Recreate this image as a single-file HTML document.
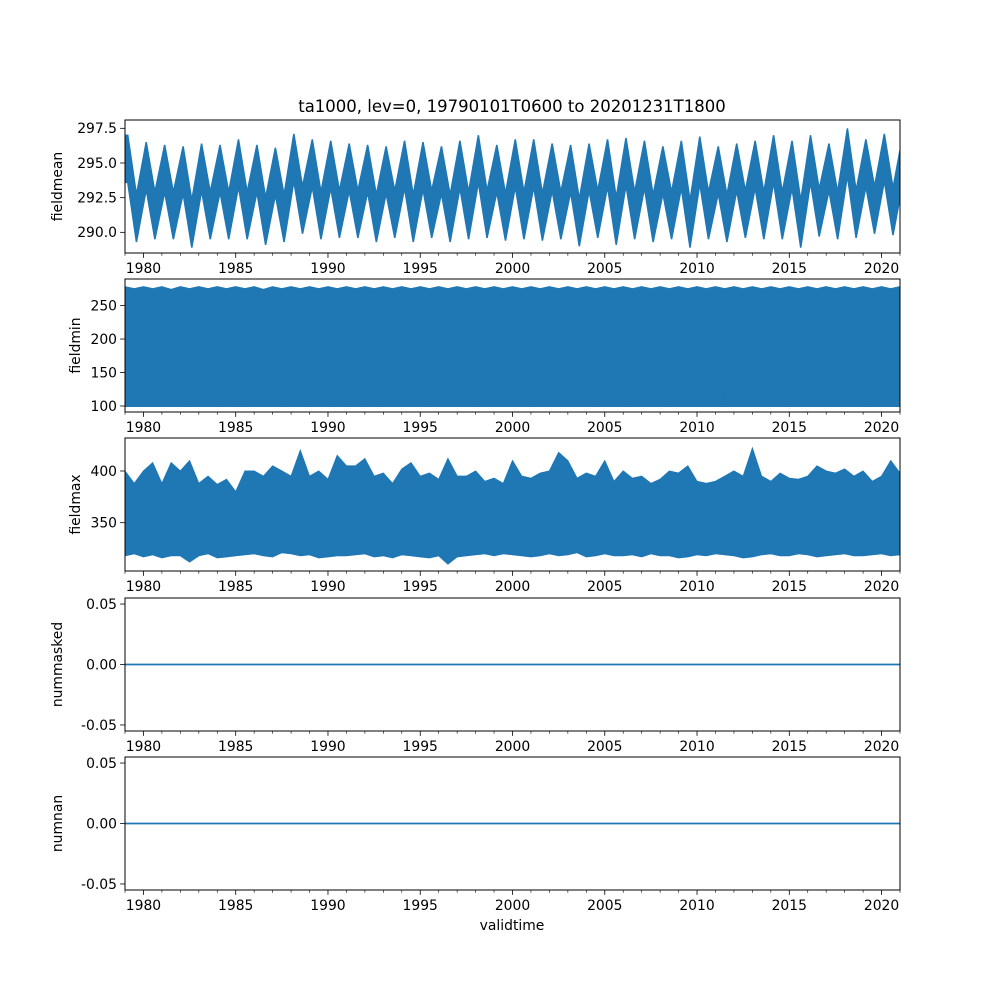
<!DOCTYPE html>
<html><head><meta charset="utf-8"><style>
body{margin:0;background:#fff}
svg text{font-family:"DejaVu Sans","Liberation Sans",sans-serif;fill:#000}
</style></head><body>
<svg id="fig" width="1000" height="1000" viewBox="0 0 1000 1000">
<rect width="1000" height="1000" fill="#fff"/>
<text x="512" y="112" font-size="16.5" text-anchor="middle">ta1000, lev=0, 19790101T0600 to 20201231T1800</text>
<text x="512" y="930" font-size="13.9" text-anchor="middle">validtime</text>
</svg>
<script>
const years=[1979,1980,1981,1982,1983,1984,1985,1986,1987,1988,1989,1990,1991,1992,1993,1994,1995,1996,1997,1998,1999,2000,2001,2002,2003,2004,2005,2006,2007,2008,2009,2010,2011,2012,2013,2014,2015,2016,2017,2018,2019,2020];
const meanPeaks=[297.0,296.5,296.3,296.2,296.4,296.3,296.7,296.3,296.1,297.1,296.7,296.6,296.4,296.3,296.2,296.6,296.5,296.2,296.6,297.0,296.3,296.7,296.7,296.4,296.3,296.4,296.7,296.8,296.6,296.2,296.6,296.9,296.2,296.4,296.6,297.0,296.6,297.0,296.4,297.5,296.7,297.1];
const meanTroughs=[289.3,289.5,289.5,288.9,289.5,289.5,289.5,289.1,289.3,289.9,289.5,289.6,289.6,289.3,289.6,289.3,289.6,289.3,289.5,289.6,289.4,289.5,289.4,289.5,289.0,289.6,289.1,289.5,289.3,289.5,288.9,289.5,289.3,289.6,289.5,289.5,288.9,289.7,289.5,289.6,289.9,289.8];
const meanEnd=295.9;
const minTops=[279,276,279,276,279,275,279,276,279,276,279,276,279,276,279,275,279,276,279,276,279,276,279,276,279,276,279,276,279,276,279,276,279,276,279,276,279,276,279,276,279,276,279,276,279,276,279,276,279,276,279,276,279,276,279,276,279,276,279,276,279,276,279,276,279,276,279,276,279,276,279,276,279,276,279,276,279,276,279,276,279,276,279,276,279];
const minBase=98.5;
const minSpikeTimes=[1979.1,1982.3,1984.3,1985.2,1987.6,1989.1,1990.1,1991.2,1992.1,1993.0,1995.3,1998.1,2001.2,2004.4,2006.2,2008.6,2011.5,2013.0,2015.1,2017.6,2019.2];
const minSpikeVals=[113,108,106,108,110,112,108,115,112,113,109,112,110,108,109,110,125,135,112,110,108];
const maxUpper=[400,388,400,408,388,408,400,410,388,395,387,392,380,400,400,395,405,400,395,420,395,400,392,415,405,405,412,395,398,388,402,408,395,398,392,412,395,395,400,390,393,388,410,395,393,398,400,418,410,393,398,395,410,390,400,393,395,388,392,400,398,405,390,388,390,395,400,395,422,395,390,398,393,392,395,405,400,398,402,395,400,390,395,410,398];
const maxLower=[318,320,317,319,316,318,318,312,318,320,316,317,318,319,320,318,317,321,320,318,319,316,317,318,318,319,320,317,318,316,319,318,317,316,318,310,317,318,319,320,318,320,319,318,317,318,320,318,319,321,317,318,320,318,318,319,317,320,318,318,316,317,319,318,320,319,318,316,317,319,320,318,318,320,319,317,318,319,320,318,318,319,320,318,319];
const maskVals=[0,0];
const nanVals=[0,0];

const NS="http://www.w3.org/2000/svg";
const svg=document.getElementById('fig');
const L=125,R=900,X0=1979,X1=2021;
const xs=t=>L+(t-X0)/(X1-X0)*(R-L);
function mk(tag,attrs,parent){const e=document.createElementNS(NS,tag);for(const k in attrs)e.setAttribute(k,attrs[k]);(parent||svg).appendChild(e);return e;}
const panels=[
 {top:120,ymin:288.51,ymax:298.1,ticks:[290.0,292.5,295.0,297.5],fmt:v=>v.toFixed(1),label:'fieldmean',name:'fieldmean-panel'},
 {top:279,ymin:91,ymax:289.7,ticks:[100,150,200,250],fmt:v=>String(v),label:'fieldmin',name:'fieldmin-panel'},
 {top:438,ymin:303.3,ymax:431.9,ticks:[350,400],fmt:v=>String(v),label:'fieldmax',name:'fieldmax-panel'},
 {top:598,ymin:-0.055,ymax:0.055,ticks:[-0.05,0,0.05],fmt:v=>v.toFixed(2),label:'nummasked',name:'nummasked-panel'},
 {top:757,ymin:-0.055,ymax:0.055,ticks:[-0.05,0,0.05],fmt:v=>v.toFixed(2),label:'numnan',name:'numnan-panel'}
];
const H=133,C='#1f77b4';
panels.forEach((p,i)=>{
 const g=mk('g',{});
 
 
 const ys=v=>p.top+H-(v-p.ymin)/(p.ymax-p.ymin)*H;
 const clipId='c'+i;
 const cp=mk('clipPath',{id:clipId},g);mk('rect',{x:L,y:p.top,width:R-L,height:H},cp);
 const dg=mk('g',{'clip-path':'url(#'+clipId+')'},g);
 let pts=[];
 if(i===0){
  const band=3.4;const up=[],lo=[];
  up.push([xs(X0),ys(meanPeaks[0])]);lo.push([xs(X0),ys(meanPeaks[0]-band)]);
  years.forEach((y,k)=>{
   up.push([xs(y+0.15),ys(meanPeaks[k])]);lo.push([xs(y+0.15),ys(meanPeaks[k]-band)]);
   up.push([xs(y+0.62),ys(meanTroughs[k]+band)]);lo.push([xs(y+0.62),ys(meanTroughs[k])]);
  });
  up.push([xs(X1),ys(meanEnd)]);lo.push([xs(X1),ys(meanEnd-band)]);
  pts=up.concat(lo.reverse());
  const poly=mk('polygon',{points:pts.map(q=>q.join(',')).join(' '),fill:C,stroke:C,'stroke-width':1.5},dg);
  
  
 } else if(i===1){
  const up=minTops.map((v,k)=>[xs(X0+k*0.5),ys(v)]);
  pts=up.concat([[xs(X1),ys(minBase)],[xs(X0),ys(minBase)]]);
  const poly=mk('polygon',{points:pts.map(q=>q.join(',')).join(' '),fill:C},dg);
  
  
  minSpikeTimes.forEach((t,k)=>{
   const s=mk('line',{x1:xs(t),x2:xs(t),y1:ys(minBase),y2:ys(minSpikeVals[k]),stroke:C,'stroke-width':1.5},dg);
   
   
  });
 } else if(i===2){
  const up=maxUpper.map((v,k)=>[xs(X0+k*0.5),ys(v)]);
  const lo=maxLower.map((v,k)=>[xs(X0+k*0.5),ys(v)]).reverse();
  const poly=mk('polygon',{points:up.concat(lo).map(q=>q.join(',')).join(' '),fill:C,stroke:C,'stroke-width':1},dg);
  
  
 } else {
  const vals=i===3?maskVals:nanVals;
  const ln=mk('line',{x1:xs(X0),x2:xs(X1),y1:ys(vals[0]),y2:ys(vals[1]),stroke:C,'stroke-width':1.8},dg);
  
  
 }
 const fr=mk('rect',{x:L,y:p.top,width:R-L,height:H,fill:'none',stroke:'#000','stroke-width':1},g);
 
 
 p.ticks.forEach(v=>{
  const y=ys(v);
  mk('line',{x1:L-4.9,x2:L,y1:y,y2:y,stroke:'#000','stroke-width':0.8},g);
  const t=mk('text',{x:L-8,y:y+4.8,'font-size':13.9,'text-anchor':'end'},g);
  t.textContent=p.fmt(v);
  
  
 });
 for(let yr=1979;yr<=2021;yr++){
  const x=xs(yr),maj=yr%5===0;
  mk('line',{x1:x,x2:x,y1:p.top+H,y2:p.top+H+(maj?4.9:2.8),stroke:'#000','stroke-width':maj?0.8:0.6},g);
  if(maj){
   const t=mk('text',{x:x,y:p.top+H+20,'font-size':13.9,'text-anchor':'middle'},g);
   t.textContent=String(yr);
   
   
  }
 }
 const lx=i<3?(i===0?62:80):62;
 const yl=mk('text',{x:0,y:0,'font-size':13.9,'text-anchor':'middle',transform:`translate(${lx},${p.top+H/2}) rotate(-90)`},g);
 yl.textContent=p.label;
 
 
});
</script>
</body></html>
